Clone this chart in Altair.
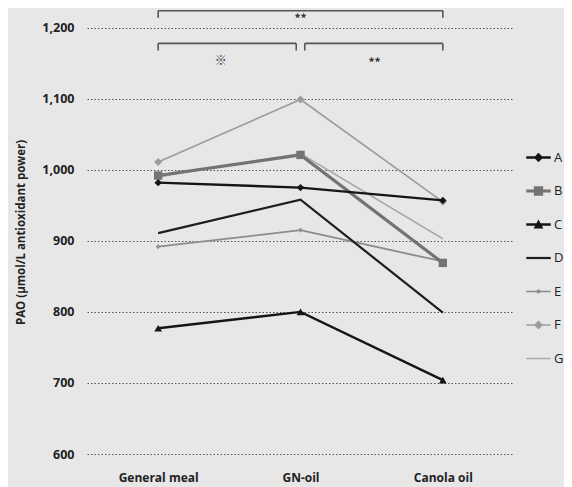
import json
import altair as alt
import pandas as pd

# ---------------- data ----------------
categories = ["General meal", "GN-oil", "Canola oil"]
series = ["A", "B", "C", "D", "E", "F", "G"]
general_meal = [982, 992, 777, 911, 892, 1011, 990]
gn_oil = [975, 1021, 800, 958, 915, 1099, 1023]
canola_oil = [957, 869, 704, 799, 871, 955, 903]

y_ticks = [600, 700, 800, 900, 1000, 1100, 1200]

# significance brackets (x in category index units, y in data units)
seg_x = [0, 0, 2, 0, 0, 0.97, 1.03, 1.03, 2]
seg_x2 = [2, 0, 2, 0.97, 0, 0.97, 2, 1.03, 2]
seg_y = [1224, 1224, 1224, 1178, 1178, 1178, 1178, 1178, 1178]
seg_y2 = [1224, 1214, 1214, 1178, 1168, 1168, 1178, 1168, 1168]
sig_text = ["**", "※", "**"]
sig_x = [1, 0.44, 1.52]
sig_y = [1212, 1153, 1151]

# ---------------- styles ----------------
line_colors = ["#151515", "#737373", "#151515", "#1e1e1e", "#8c8c8c", "#9c9c9c", "#a9a9a9"]
line_widths = [2.4, 3.2, 2.4, 2.2, 1.8, 1.6, 1.5]
marker_shape = {"A": "diamond", "B": "square", "C": "triangle-up", "E": "cross", "F": "diamond"}
marker_size = {"A": 55, "B": 70, "C": 60, "E": 18, "F": 65}
draw_order = ["G", "F", "E", "B", "D", "C", "A"]


def rect(h):
    return f"M-1,-{h}H1V{h}H-1Z"


def diamond(s):
    return f"M0,-{s}L{s},0L0,{s}L-{s},0Z"


def square(s):
    return f"M-{s},-{s}H{s}V{s}H-{s}Z"


def tri(s):
    return f"M0,-{s}L{s},{s * 0.8}H-{s}Z"


legend_paths = [
    rect(0.1) + diamond(0.38),
    rect(0.13) + square(0.38),
    rect(0.1) + tri(0.4),
    rect(0.09),
    rect(0.07) + square(0.14),
    rect(0.065) + diamond(0.36),
    rect(0.06),
]

rows = []
for i, s in enumerate(series):
    for j, v in enumerate([general_meal[i], gn_oil[i], canola_oil[i]]):
        rows.append({"series": s, "xi": j, "value": v})
df = pd.DataFrame(rows)

seg_df = pd.DataFrame({"bx": seg_x, "bx2": seg_x2, "by": seg_y, "by2": seg_y2})
txt_df = pd.DataFrame({"t": sig_text, "tx": sig_x, "ty": sig_y})

FONT = "Open Sans"
label_expr = json.dumps(categories) + "[datum.value]"

x_axis = alt.Axis(values=[0, 1, 2], labelExpr=label_expr, grid=False, domain=False, ticks=False,
                  labelPadding=18, labelFont=FONT, labelFontSize=12, labelFontWeight="bold",
                  labelColor="#222222", title=None)
y_axis = alt.Axis(values=y_ticks, labelExpr="format(datum.value, ',.0f')", grid=True,
                  gridDash=[1.5, 2], gridColor="#555555",
                  gridWidth=1, domain=False, ticks=False, labelPadding=13, labelFont=FONT,
                  labelFontSize=12.5, labelFontWeight="bold", labelColor="#222222",
                  title="PAO (μmol/L antioxidant power)", titleFont=FONT, titleFontSize=11.5,
                  titleFontWeight="bold", titleColor="#222222", titlePadding=15)
x_scale = alt.Scale(domain=[-0.5, 2.5], nice=False, zero=False)
y_scale = alt.Scale(domain=[600, 1225], nice=False, zero=False)


def X(f):
    return alt.X(f"{f}:Q", scale=x_scale, axis=x_axis)


def Y(f):
    return alt.Y(f"{f}:Q", scale=y_scale, axis=y_axis)


base = alt.Chart(df)
layers = []
for s in draw_order:
    i = series.index(s)
    layers.append(
        base.transform_filter(alt.datum.series == s)
        .mark_line(color=line_colors[i], strokeWidth=line_widths[i])
        .encode(x=X("xi"), y=Y("value"), order="xi:Q")
    )
for s in draw_order:
    if s in marker_shape:
        i = series.index(s)
        layers.append(
            base.transform_filter(alt.datum.series == s)
            .mark_point(filled=True, shape=marker_shape[s], size=marker_size[s],
                        color=line_colors[i], opacity=1)
            .encode(x=X("xi"), y=Y("value"))
        )

leg = alt.Legend(title=None, orient="none", legendX=439, legendY=135, padding=0,
                 symbolSize=600, symbolOpacity=1, rowPadding=13.5, labelOffset=3,
                 labelFont=FONT, labelFontSize=13, labelColor="#222222", symbolStrokeWidth=0)
layers.append(
    base.mark_point(filled=True, opacity=0, size=600).encode(
        x=X("xi"), y=Y("value"),
        fill=alt.Fill("series:N", scale=alt.Scale(domain=series, range=line_colors), legend=leg),
        shape=alt.Shape("series:N", scale=alt.Scale(domain=series, range=legend_paths), legend=leg),
    )
)

layers.append(
    alt.Chart(seg_df).mark_rule(color="#555555", strokeWidth=1.6).encode(
        x=X("bx"), x2="bx2:Q", y=Y("by"), y2="by2:Q"
    )
)
layers.append(
    alt.Chart(txt_df).mark_text(font="Noto Sans CJK JP", fontSize=12, fontWeight="bold",
                                color="#333333", baseline="middle").encode(
        x=X("tx"), y=Y("ty"), text="t:N"
    )
)

chart = alt.layer(*layers).properties(
    width=427, height=444,
    autosize=alt.AutoSizeParams(type="none"),
    padding={"left": 79, "top": 2, "right": 50, "bottom": 33},
    background="#e7e7e7",
).configure_view(stroke=None)

chart.save("out.html", embed_options={"renderer": "svg", "actions": False})
